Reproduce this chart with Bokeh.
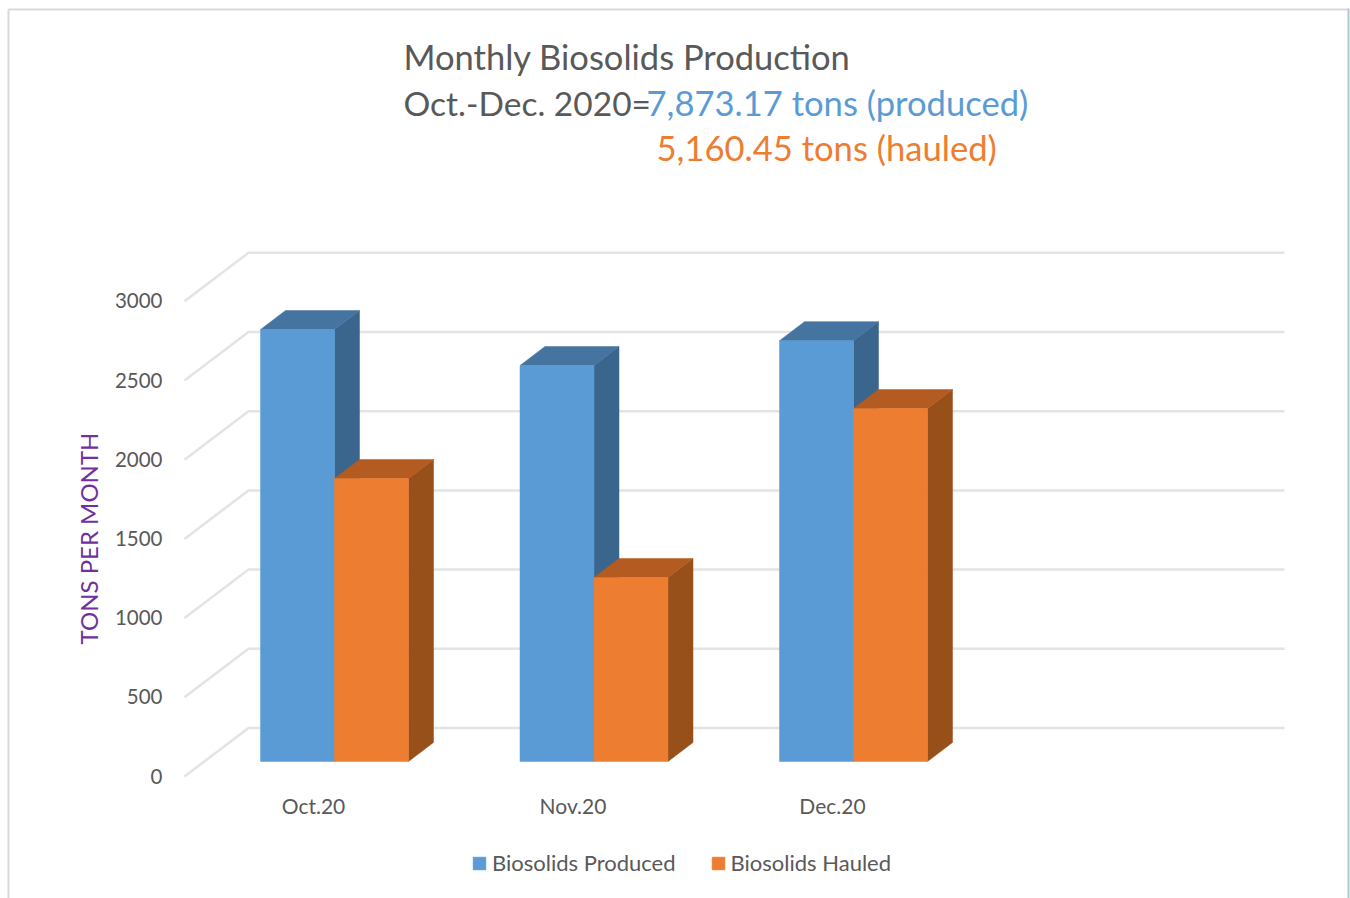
from bokeh.embed import file_html
from bokeh.resources import INLINE
from bokeh.plotting import figure
from bokeh.models import Range1d, LinearAxis, FixedTicker, Legend, LegendItem, Label

categories = ["Oct.20", "Nov.20", "Dec.20"]
produced = [2727, 2500, 2657]
hauled = [1787, 1162, 2228]
y_ticks = [0, 500, 1000, 1500, 2000, 2500, 3000]
title_lines = ["Monthly Biosolids Production", "Oct.-Dec. 2020=", "7,873.17 tons (produced)", "5,160.45 tons (hauled)"]

FONT = "Lato"
GREY = "#595959"
CAT_PX = 259.5
VAL_PX = 79.2 / 500
X0, Y0 = 334.0, 761.0
def X(px): return (px - X0) / CAT_PX
def V(py): return (Y0 - py) / VAL_PX

W, H = 1350, 898
p = figure(width=W, height=H, output_backend="svg", toolbar_location=None,
           x_range=Range1d(X(0), X(W)), y_range=Range1d(V(H), V(0)),
           min_border_left=0, min_border_right=0, min_border_top=0, min_border_bottom=0,
           outline_line_color=None, background_fill_color="white",
           border_fill_color="white", x_axis_type=None, y_axis_type=None)
p.grid.visible = False

p.extra_y_ranges["front"] = Range1d(V(H) + (775.5 - 761) / VAL_PX, V(0) + (775.5 - 761) / VAL_PX)
p.extra_x_ranges["front"] = Range1d(X(0) + 21 / CAT_PX, X(W) + 21 / CAT_PX)

yaxis = LinearAxis(y_range_name="front", ticker=FixedTicker(ticks=y_ticks), axis_line_color=None,
                   major_tick_line_color=None, minor_tick_line_color=None, major_label_standoff=-168,
                   major_label_text_font=FONT, major_label_text_font_size="20.5px", major_label_text_color=GREY)
p.add_layout(yaxis, "left")
xaxis = LinearAxis(x_range_name="front", ticker=FixedTicker(ticks=list(range(len(categories)))),
                   major_label_overrides={i: c for i, c in enumerate(categories)}, axis_line_color=None,
                   major_tick_line_color=None, minor_tick_line_color=None, major_label_standoff=-112,
                   major_label_text_font=FONT, major_label_text_font_size="21px", major_label_text_color=GREY)
p.add_layout(xaxis, "below")

WALL_DV = (761 - 727.5) / VAL_PX
FRONT_DV = (761 - 776) / VAL_PX
for t in y_ticks:
    p.line([X(184), X(248), X(1284)], [t + FRONT_DV, t + WALL_DV, t + WALL_DV],
           line_color="#e4e4e4", line_width=2.5)

DX = 25 / CAT_PX
DV = 19 / VAL_PX
BW = 74 / CAT_PX
def bar(v, left, front, side, top):
    r = left + BW
    p.patch([r, r + DX, r + DX, r], [0, DV, v + DV, v], fill_color=side, line_color=side, line_width=0.5)
    p.patch([left, left + DX, r + DX, r], [v, v + DV, v + DV, v], fill_color=top, line_color=top, line_width=0.5)
    return p.vbar(x=[left + BW / 2], top=[v], bottom=[0], width=BW, fill_color=front, line_color=front, line_width=0.5)

r_prod = r_haul = None
for i in range(len(categories)):
    r_prod = bar(produced[i], i - BW, "#5B9BD5", "#3A658D", "#44749F")
    r_haul = bar(hauled[i], i, "#ED7D31", "#97501A", "#B35B20")

legend = Legend(items=[LegendItem(label="Biosolids Produced", renderers=[r_prod]),
                       LegendItem(label="Biosolids Hauled", renderers=[r_haul])],
                orientation="horizontal", location=(471, H - 876), border_line_color=None,
                background_fill_alpha=0, glyph_width=16, glyph_height=16, label_standoff=5,
                spacing=34, margin=0, padding=0,
                label_text_font=FONT, label_text_font_size="22px", label_text_color=GREY)
p.add_layout(legend, "center")

def text(x, y, s, color, size):
    p.add_layout(Label(x=X(x), y=V(y), text=s, text_color=color, text_font=FONT, text_font_size=size,
                       text_baseline="middle"))

text(403, 56, title_lines[0], GREY, "34.5px")
text(403, 102, title_lines[1], GREY, "33.5px")
text(646, 102, title_lines[2], "#5B9BD5", "34.6px")
text(656, 147, title_lines[3], "#ED7D31", "34.6px")
p.add_layout(Label(x=X(88), y=V(538), text="TONS PER MONTH", angle=90, angle_units="deg", text_align="center",
                   text_baseline="middle", text_color="#7030A0", text_font=FONT, text_font_size="24px"))

for xs, ys, c in [([8, 8], [898, 9], "#d9d9d9"), ([8, 1348], [9, 9], "#d9d9d9"), ([1348, 1348], [8, 898], "#a9ccd0")]:
    p.line([X(v) for v in xs], [V(v) for v in ys], line_color=c, line_width=2)

open("out.html", "w").write(file_html(p, INLINE))
